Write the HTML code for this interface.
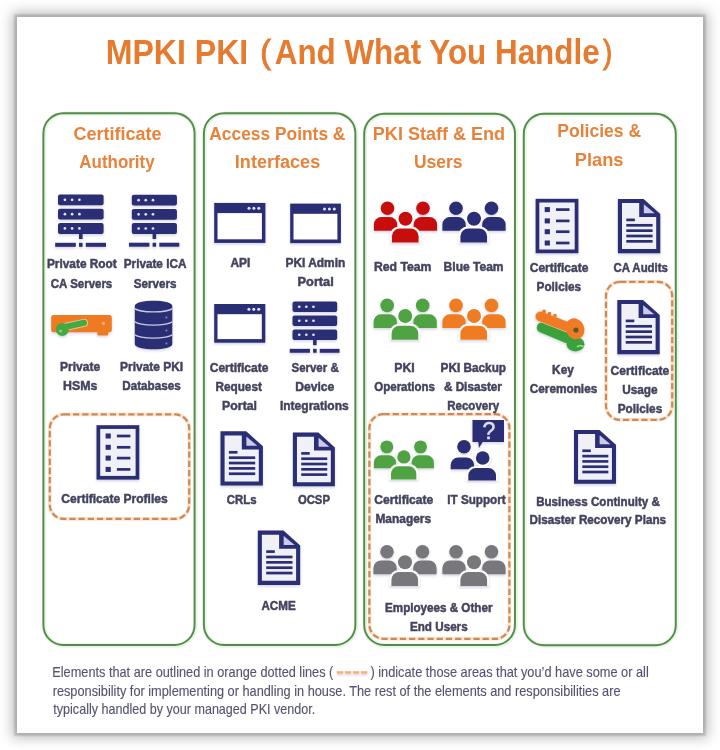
<!DOCTYPE html>
<html><head><meta charset="utf-8"><style>
html,body{margin:0;padding:0;background:#fff;width:720px;height:750px;overflow:hidden;}
#card{position:absolute;left:17px;top:16.6px;width:686.3px;height:716.2px;background:#fff;box-shadow:0 0 1.5px 3px rgba(0,0,0,0.14),0 0 12px 5px rgba(0,0,0,0.26);}
svg{position:absolute;left:0;top:0;filter:blur(0.4px);}
text{font-family:"Liberation Sans",sans-serif;}
</style></head><body>
<div id="card"></div>
<svg width="720" height="750" viewBox="0 0 720 750">
<rect x="44.0" y="113.7" width="151.20" height="531.70" rx="20" fill="none" stroke="#e6f6e2" stroke-width="4.5"/><rect x="43.4" y="113.3" width="151.20" height="531.70" rx="20" fill="none" stroke="#558a4f" stroke-width="1.9"/><rect x="204.5" y="113.7" width="151.50" height="531.70" rx="20" fill="none" stroke="#e6f6e2" stroke-width="4.5"/><rect x="203.9" y="113.3" width="151.50" height="531.70" rx="20" fill="none" stroke="#558a4f" stroke-width="1.9"/><rect x="364.8" y="114.2" width="150.80" height="531.20" rx="20" fill="none" stroke="#e6f6e2" stroke-width="4.5"/><rect x="364.2" y="113.8" width="150.80" height="531.20" rx="20" fill="none" stroke="#558a4f" stroke-width="1.9"/><rect x="524.4" y="114.2" width="152.00" height="531.40" rx="20" fill="none" stroke="#e6f6e2" stroke-width="4.5"/><rect x="523.8" y="113.8" width="152.00" height="531.40" rx="20" fill="none" stroke="#558a4f" stroke-width="1.9"/>
<rect x="49.8" y="414.4" width="139.40" height="104.50" rx="14" fill="none" stroke="#fbe3cf" stroke-width="3.6"/><rect x="49.8" y="414.4" width="139.40" height="104.50" rx="14" fill="none" stroke="#cc8a58" stroke-width="2.2" stroke-dasharray="6.3 2.9"/><rect x="369.4" y="414.2" width="140.00" height="224.60" rx="14" fill="none" stroke="#fbe3cf" stroke-width="3.6"/><rect x="369.4" y="414.2" width="140.00" height="224.60" rx="14" fill="none" stroke="#cc8a58" stroke-width="2.2" stroke-dasharray="6.3 2.9"/><rect x="606" y="281.9" width="66.20" height="137.90" rx="14" fill="none" stroke="#fbe3cf" stroke-width="3.6"/><rect x="606" y="281.9" width="66.20" height="137.90" rx="14" fill="none" stroke="#cc8a58" stroke-width="2.2" stroke-dasharray="6.3 2.9"/>
<defs><filter id="sh" x="-10%" y="-10%" width="120%" height="130%"><feDropShadow dx="0" dy="1.5" stdDeviation="1" flood-color="#3a3a70" flood-opacity="0.22"/></filter></defs>
<g filter="url(#sh)"><rect x="58.00" y="194.40" width="45.60" height="10.90" rx="2" fill="#2c2d74"/><circle cx="64.90" cy="199.85" r="1.35" fill="#e4e4f4"/><circle cx="72.10" cy="199.85" r="1.35" fill="#e4e4f4"/><circle cx="79.40" cy="199.85" r="1.35" fill="#e4e4f4"/><rect x="58.00" y="208.70" width="45.60" height="10.90" rx="2" fill="#2c2d74"/><circle cx="64.90" cy="214.15" r="1.35" fill="#e4e4f4"/><circle cx="72.10" cy="214.15" r="1.35" fill="#e4e4f4"/><circle cx="79.40" cy="214.15" r="1.35" fill="#e4e4f4"/><rect x="58.00" y="223.00" width="45.60" height="10.90" rx="2" fill="#2c2d74"/><circle cx="64.90" cy="228.45" r="1.35" fill="#e4e4f4"/><circle cx="72.10" cy="228.45" r="1.35" fill="#e4e4f4"/><circle cx="79.40" cy="228.45" r="1.35" fill="#e4e4f4"/><rect x="79.00" y="233.40" width="3.60" height="5.60" fill="#2c2d74"/><rect x="55.20" y="242.80" width="20.60" height="4.00" fill="#2c2d74"/><rect x="79.00" y="242.80" width="3.60" height="4.00" fill="#2c2d74"/><rect x="85.80" y="242.80" width="20.20" height="4.00" fill="#2c2d74"/><rect x="131.80" y="194.80" width="45.14" height="10.79" rx="2" fill="#2c2d74"/><circle cx="138.63" cy="200.20" r="1.35" fill="#e4e4f4"/><circle cx="145.76" cy="200.20" r="1.35" fill="#e4e4f4"/><circle cx="152.99" cy="200.20" r="1.35" fill="#e4e4f4"/><rect x="131.80" y="208.96" width="45.14" height="10.79" rx="2" fill="#2c2d74"/><circle cx="138.63" cy="214.35" r="1.35" fill="#e4e4f4"/><circle cx="145.76" cy="214.35" r="1.35" fill="#e4e4f4"/><circle cx="152.99" cy="214.35" r="1.35" fill="#e4e4f4"/><rect x="131.80" y="223.11" width="45.14" height="10.79" rx="2" fill="#2c2d74"/><circle cx="138.63" cy="228.51" r="1.35" fill="#e4e4f4"/><circle cx="145.76" cy="228.51" r="1.35" fill="#e4e4f4"/><circle cx="152.99" cy="228.51" r="1.35" fill="#e4e4f4"/><rect x="152.59" y="233.41" width="3.56" height="5.54" fill="#2c2d74"/><rect x="129.03" y="242.72" width="20.39" height="3.96" fill="#2c2d74"/><rect x="152.59" y="242.72" width="3.56" height="3.96" fill="#2c2d74"/><rect x="159.32" y="242.72" width="20.00" height="3.96" fill="#2c2d74"/><rect x="51.2" y="315" width="60.6" height="17.2" rx="2.5" fill="#ee7a22"/><rect x="97.3" y="330" width="11" height="5.5" rx="1.5" fill="#ee7a22"/><circle cx="103.4" cy="323.3" r="1.6" fill="#f6b48a"/><path d="M63 327.5 L84 322.8" stroke="#e2c98a" stroke-width="8" stroke-linecap="round"/><path d="M63 327.5 L84 322.8" stroke="#45a83f" stroke-width="6" stroke-linecap="round"/><circle cx="62.3" cy="329.4" r="6.5" fill="#45a83f"/><circle cx="60.5" cy="331" r="1.5" fill="#8fcf6f"/><path d="M134.8 306 C134.8 299 172.3 299 172.3 306 V344 C172.3 351 134.8 351 134.8 344 Z" fill="#2c2d74"/><path d="M134.8 308.6 C140 313 167 313 172.3 308.6" stroke="#c8c8e8" stroke-width="1.4" fill="none"/><path d="M134.8 321.8 C140 326.2 167 326.2 172.3 321.8" stroke="#c8c8e8" stroke-width="1.4" fill="none"/><path d="M134.8 334.8 C140 339.2 167 339.2 172.3 334.8" stroke="#c8c8e8" stroke-width="1.4" fill="none"/><circle cx="166.4" cy="317.5" r="1" fill="#8a8ac0"/><circle cx="166.4" cy="330.5" r="1" fill="#8a8ac0"/><circle cx="166.4" cy="343.5" r="1" fill="#8a8ac0"/><rect x="96.5" y="425.2" width="42.80" height="54.40" fill="#2c2d74"/><rect x="100.20" y="428.90" width="35.40" height="47.00" fill="#f0f0f7"/><rect x="105.60" y="433.50" width="5.20" height="5.00" fill="#2c2d74"/><rect x="116.90" y="434.65" width="13.50" height="2.70" fill="#2c2d74"/><rect x="105.60" y="444.80" width="5.20" height="5.00" fill="#2c2d74"/><rect x="116.90" y="445.95" width="13.50" height="2.70" fill="#2c2d74"/><rect x="105.60" y="455.60" width="5.20" height="5.00" fill="#2c2d74"/><rect x="116.90" y="456.75" width="13.50" height="2.70" fill="#2c2d74"/><rect x="105.60" y="466.90" width="5.20" height="5.00" fill="#2c2d74"/><rect x="116.90" y="468.05" width="13.50" height="2.70" fill="#2c2d74"/><rect x="214.2" y="202.9" width="51.2" height="40" fill="#2c2d74"/><rect x="217.50" y="213.10" width="44.40" height="26.20" fill="#fff"/><circle cx="249.00" cy="208.20" r="1.5" fill="#e4e4f4"/><circle cx="253.90" cy="208.20" r="1.5" fill="#e4e4f4"/><circle cx="258.80" cy="208.20" r="1.5" fill="#e4e4f4"/><rect x="290.2" y="203.6" width="50.7" height="39.5" fill="#2c2d74"/><rect x="293.50" y="213.80" width="43.90" height="25.70" fill="#fff"/><circle cx="324.50" cy="208.90" r="1.5" fill="#e4e4f4"/><circle cx="329.40" cy="208.90" r="1.5" fill="#e4e4f4"/><circle cx="334.30" cy="208.90" r="1.5" fill="#e4e4f4"/><rect x="214.2" y="304" width="51.1" height="38.7" fill="#2c2d74"/><rect x="217.50" y="314.20" width="44.30" height="24.90" fill="#fff"/><circle cx="248.90" cy="309.30" r="1.5" fill="#e4e4f4"/><circle cx="253.80" cy="309.30" r="1.5" fill="#e4e4f4"/><circle cx="258.70" cy="309.30" r="1.5" fill="#e4e4f4"/><rect x="292.50" y="301.40" width="44.69" height="10.68" rx="2" fill="#2c2d74"/><circle cx="299.26" cy="306.74" r="1.35" fill="#e4e4f4"/><circle cx="306.32" cy="306.74" r="1.35" fill="#e4e4f4"/><circle cx="313.47" cy="306.74" r="1.35" fill="#e4e4f4"/><rect x="292.50" y="315.41" width="44.69" height="10.68" rx="2" fill="#2c2d74"/><circle cx="299.26" cy="320.75" r="1.35" fill="#e4e4f4"/><circle cx="306.32" cy="320.75" r="1.35" fill="#e4e4f4"/><circle cx="313.47" cy="320.75" r="1.35" fill="#e4e4f4"/><rect x="292.50" y="329.43" width="44.69" height="10.68" rx="2" fill="#2c2d74"/><circle cx="299.26" cy="334.77" r="1.35" fill="#e4e4f4"/><circle cx="306.32" cy="334.77" r="1.35" fill="#e4e4f4"/><circle cx="313.47" cy="334.77" r="1.35" fill="#e4e4f4"/><rect x="313.08" y="339.61" width="3.53" height="5.49" fill="#2c2d74"/><rect x="289.76" y="348.83" width="20.19" height="3.92" fill="#2c2d74"/><rect x="313.08" y="348.83" width="3.53" height="3.92" fill="#2c2d74"/><rect x="319.74" y="348.83" width="19.80" height="3.92" fill="#2c2d74"/><path d="M220.5 431.3 H246.20 L262.90 446.30 V485.60 H220.5 Z" fill="#2c2d74"/><path d="M224.60 435.40 H241.80 V449.38 H258.80 V481.50 H224.60 Z" fill="#f0f0f7"/><path d="M246.40 436.60 L257.30 445.70 H246.40 Z" fill="#cbcbea"/><rect x="228.90" y="450.95" width="8.60" height="2.70" fill="#2c2d74"/><rect x="228.90" y="456.35" width="26.30" height="2.70" fill="#2c2d74"/><rect x="228.90" y="461.70" width="26.30" height="2.70" fill="#2c2d74"/><rect x="228.90" y="467.05" width="26.30" height="2.70" fill="#2c2d74"/><rect x="228.90" y="472.40" width="26.30" height="2.70" fill="#2c2d74"/><path d="M292.9 432.6 H318.34 L334.88 447.45 V486.36 H292.9 Z" fill="#2c2d74"/><path d="M296.96 436.66 H313.98 V450.49 H330.82 V482.30 H296.96 Z" fill="#f0f0f7"/><path d="M318.54 437.86 L329.32 446.85 H318.54 Z" fill="#cbcbea"/><rect x="301.22" y="452.04" width="8.51" height="2.67" fill="#2c2d74"/><rect x="301.22" y="457.39" width="26.04" height="2.67" fill="#2c2d74"/><rect x="301.22" y="462.68" width="26.04" height="2.67" fill="#2c2d74"/><rect x="301.22" y="467.98" width="26.04" height="2.67" fill="#2c2d74"/><rect x="301.22" y="473.28" width="26.04" height="2.67" fill="#2c2d74"/><path d="M257.8 530.6 H283.50 L300.20 545.60 V584.90 H257.8 Z" fill="#2c2d74"/><path d="M261.90 534.70 H279.10 V548.68 H296.10 V580.80 H261.90 Z" fill="#f0f0f7"/><path d="M283.70 535.90 L294.60 545.00 H283.70 Z" fill="#cbcbea"/><rect x="266.20" y="550.25" width="8.60" height="2.70" fill="#2c2d74"/><rect x="266.20" y="555.65" width="26.30" height="2.70" fill="#2c2d74"/><rect x="266.20" y="561.00" width="26.30" height="2.70" fill="#2c2d74"/><rect x="266.20" y="566.35" width="26.30" height="2.70" fill="#2c2d74"/><rect x="266.20" y="571.70" width="26.30" height="2.70" fill="#2c2d74"/><circle cx="387.50" cy="208.20" r="6.80" fill="#c80a0e"/><circle cx="423.00" cy="208.20" r="6.80" fill="#c80a0e"/><path d="M373.90 230.70 V224.60 A7.5 7.5 0 0 1 381.40 217.10 H389.70 A7.5 7.5 0 0 1 397.20 224.60 V230.70 Z" fill="#c80a0e"/><path d="M413.70 230.70 V224.60 A7.5 7.5 0 0 1 421.20 217.10 H429.60 A7.5 7.5 0 0 1 437.10 224.60 V230.70 Z" fill="#c80a0e"/><circle cx="405.50" cy="218.80" r="8.60" fill="#fff"/><path d="M390.10 242.50 V235.20 A8.5 8.5 0 0 1 398.60 226.70 H411.90 A8.5 8.5 0 0 1 420.40 235.20 V242.50 Z" fill="#fff"/><circle cx="405.50" cy="218.80" r="7.00" fill="#c80a0e"/><path d="M391.90 242.50 V236.50 A8.0 8.0 0 0 1 399.90 228.50 H410.60 A8.0 8.0 0 0 1 418.60 236.50 V242.50 Z" fill="#c80a0e"/><circle cx="456.00" cy="208.20" r="6.80" fill="#2c2d74"/><circle cx="491.50" cy="208.20" r="6.80" fill="#2c2d74"/><path d="M442.40 230.70 V224.60 A7.5 7.5 0 0 1 449.90 217.10 H458.20 A7.5 7.5 0 0 1 465.70 224.60 V230.70 Z" fill="#2c2d74"/><path d="M482.20 230.70 V224.60 A7.5 7.5 0 0 1 489.70 217.10 H498.10 A7.5 7.5 0 0 1 505.60 224.60 V230.70 Z" fill="#2c2d74"/><circle cx="474.00" cy="218.80" r="8.60" fill="#fff"/><path d="M458.60 242.50 V235.20 A8.5 8.5 0 0 1 467.10 226.70 H480.40 A8.5 8.5 0 0 1 488.90 235.20 V242.50 Z" fill="#fff"/><circle cx="474.00" cy="218.80" r="7.00" fill="#2c2d74"/><path d="M460.40 242.50 V236.50 A8.0 8.0 0 0 1 468.40 228.50 H479.10 A8.0 8.0 0 0 1 487.10 236.50 V242.50 Z" fill="#2c2d74"/><circle cx="387.20" cy="305.40" r="6.80" fill="#50a343"/><circle cx="422.70" cy="305.40" r="6.80" fill="#50a343"/><path d="M373.60 327.90 V321.80 A7.5 7.5 0 0 1 381.10 314.30 H389.40 A7.5 7.5 0 0 1 396.90 321.80 V327.90 Z" fill="#50a343"/><path d="M413.40 327.90 V321.80 A7.5 7.5 0 0 1 420.90 314.30 H429.30 A7.5 7.5 0 0 1 436.80 321.80 V327.90 Z" fill="#50a343"/><circle cx="405.20" cy="316.00" r="8.60" fill="#fff"/><path d="M389.80 339.70 V332.40 A8.5 8.5 0 0 1 398.30 323.90 H411.60 A8.5 8.5 0 0 1 420.10 332.40 V339.70 Z" fill="#fff"/><circle cx="405.20" cy="316.00" r="7.00" fill="#50a343"/><path d="M391.60 339.70 V333.70 A8.0 8.0 0 0 1 399.60 325.70 H410.30 A8.0 8.0 0 0 1 418.30 333.70 V339.70 Z" fill="#50a343"/><circle cx="456.00" cy="305.40" r="6.80" fill="#f07b24"/><circle cx="491.50" cy="305.40" r="6.80" fill="#f07b24"/><path d="M442.40 327.90 V321.80 A7.5 7.5 0 0 1 449.90 314.30 H458.20 A7.5 7.5 0 0 1 465.70 321.80 V327.90 Z" fill="#f07b24"/><path d="M482.20 327.90 V321.80 A7.5 7.5 0 0 1 489.70 314.30 H498.10 A7.5 7.5 0 0 1 505.60 321.80 V327.90 Z" fill="#f07b24"/><circle cx="474.00" cy="316.00" r="8.60" fill="#fff"/><path d="M458.60 339.70 V332.40 A8.5 8.5 0 0 1 467.10 323.90 H480.40 A8.5 8.5 0 0 1 488.90 332.40 V339.70 Z" fill="#fff"/><circle cx="474.00" cy="316.00" r="7.00" fill="#f07b24"/><path d="M460.40 339.70 V333.70 A8.0 8.0 0 0 1 468.40 325.70 H479.10 A8.0 8.0 0 0 1 487.10 333.70 V339.70 Z" fill="#f07b24"/><circle cx="386.80" cy="446.87" r="6.46" fill="#50a343"/><circle cx="420.52" cy="446.87" r="6.46" fill="#50a343"/><path d="M373.88 468.24 V462.44 A7.125 7.125 0 0 1 381.00 455.32 H388.89 A7.125 7.125 0 0 1 396.01 462.44 V468.24 Z" fill="#50a343"/><path d="M411.69 468.24 V462.44 A7.125 7.125 0 0 1 418.81 455.32 H426.80 A7.125 7.125 0 0 1 433.92 462.44 V468.24 Z" fill="#50a343"/><circle cx="403.90" cy="456.94" r="8.26" fill="#fff"/><path d="M389.18 479.45 V472.42 A8.075 8.075 0 0 1 397.25 464.35 H410.07 A8.075 8.075 0 0 1 418.15 472.42 V479.45 Z" fill="#fff"/><circle cx="403.90" cy="456.94" r="6.66" fill="#50a343"/><path d="M390.98 479.45 V473.75 A7.6 7.6 0 0 1 398.58 466.15 H408.75 A7.6 7.6 0 0 1 416.35 473.75 V479.45 Z" fill="#50a343"/><circle cx="387.00" cy="551.70" r="6.80" fill="#77777b"/><circle cx="422.50" cy="551.70" r="6.80" fill="#77777b"/><path d="M373.40 574.20 V568.10 A7.5 7.5 0 0 1 380.90 560.60 H389.20 A7.5 7.5 0 0 1 396.70 568.10 V574.20 Z" fill="#77777b"/><path d="M413.20 574.20 V568.10 A7.5 7.5 0 0 1 420.70 560.60 H429.10 A7.5 7.5 0 0 1 436.60 568.10 V574.20 Z" fill="#77777b"/><circle cx="405.00" cy="562.30" r="8.60" fill="#fff"/><path d="M389.60 586.00 V578.70 A8.5 8.5 0 0 1 398.10 570.20 H411.40 A8.5 8.5 0 0 1 419.90 578.70 V586.00 Z" fill="#fff"/><circle cx="405.00" cy="562.30" r="7.00" fill="#77777b"/><path d="M391.40 586.00 V580.00 A8.0 8.0 0 0 1 399.40 572.00 H410.10 A8.0 8.0 0 0 1 418.10 580.00 V586.00 Z" fill="#77777b"/><circle cx="456.00" cy="551.70" r="6.80" fill="#77777b"/><circle cx="491.50" cy="551.70" r="6.80" fill="#77777b"/><path d="M442.40 574.20 V568.10 A7.5 7.5 0 0 1 449.90 560.60 H458.20 A7.5 7.5 0 0 1 465.70 568.10 V574.20 Z" fill="#77777b"/><path d="M482.20 574.20 V568.10 A7.5 7.5 0 0 1 489.70 560.60 H498.10 A7.5 7.5 0 0 1 505.60 568.10 V574.20 Z" fill="#77777b"/><circle cx="474.00" cy="562.30" r="8.60" fill="#fff"/><path d="M458.60 586.00 V578.70 A8.5 8.5 0 0 1 467.10 570.20 H480.40 A8.5 8.5 0 0 1 488.90 578.70 V586.00 Z" fill="#fff"/><circle cx="474.00" cy="562.30" r="7.00" fill="#77777b"/><path d="M460.40 586.00 V580.00 A8.0 8.0 0 0 1 468.40 572.00 H479.10 A8.0 8.0 0 0 1 487.10 580.00 V586.00 Z" fill="#77777b"/><path d="M472.5 420.1 H504 V442 H482.7 L478.9 447.9 L478.4 442 H472.5 Z" fill="#2c2d74"/><text x="488.8" y="439.4" font-size="23" font-family="Liberation Sans" text-anchor="middle" fill="#e0e0f2" stroke="#e0e0f2" stroke-width="0.4">?</text><circle cx="464" cy="446.8" r="6.8" fill="#2c2d74"/><path d="M450.70 469.20 V465.00 A7.5 7.5 0 0 1 458.20 457.50 H466.60 A7.5 7.5 0 0 1 474.10 465.00 V469.20 Z" fill="#2c2d74"/><circle cx="482.7" cy="458" r="8.6" fill="#fff"/><path d="M466.50 480.40 V474.80 A8.5 8.5 0 0 1 475.00 466.30 H489.30 A8.5 8.5 0 0 1 497.80 474.80 V480.40 Z" fill="#fff"/><circle cx="482.7" cy="458" r="6.8" fill="#2c2d74"/><path d="M468.30 480.40 V475.60 A7.5 7.5 0 0 1 475.80 468.10 H488.50 A7.5 7.5 0 0 1 496.00 475.60 V480.40 Z" fill="#2c2d74"/><rect x="535.6" y="198.8" width="42.80" height="54.40" fill="#2c2d74"/><rect x="539.30" y="202.50" width="35.40" height="47.00" fill="#f0f0f7"/><rect x="544.70" y="207.10" width="5.20" height="5.00" fill="#2c2d74"/><rect x="556.00" y="208.25" width="13.50" height="2.70" fill="#2c2d74"/><rect x="544.70" y="218.40" width="5.20" height="5.00" fill="#2c2d74"/><rect x="556.00" y="219.55" width="13.50" height="2.70" fill="#2c2d74"/><rect x="544.70" y="229.20" width="5.20" height="5.00" fill="#2c2d74"/><rect x="556.00" y="230.35" width="13.50" height="2.70" fill="#2c2d74"/><rect x="544.70" y="240.50" width="5.20" height="5.00" fill="#2c2d74"/><rect x="556.00" y="241.65" width="13.50" height="2.70" fill="#2c2d74"/><path d="M617.9 198.9 H643.60 L660.30 213.90 V253.20 H617.9 Z" fill="#2c2d74"/><path d="M622.00 203.00 H639.20 V216.97 H656.20 V249.10 H622.00 Z" fill="#f0f0f7"/><path d="M643.80 204.20 L654.70 213.30 H643.80 Z" fill="#cbcbea"/><rect x="626.30" y="218.55" width="8.60" height="2.70" fill="#2c2d74"/><rect x="626.30" y="223.95" width="26.30" height="2.70" fill="#2c2d74"/><rect x="626.30" y="229.30" width="26.30" height="2.70" fill="#2c2d74"/><rect x="626.30" y="234.65" width="26.30" height="2.70" fill="#2c2d74"/><rect x="626.30" y="240.00" width="26.30" height="2.70" fill="#2c2d74"/><path d="M617.3 299.9 H643.00 L659.70 314.90 V354.20 H617.3 Z" fill="#2c2d74"/><path d="M621.40 304.00 H638.60 V317.97 H655.60 V350.10 H621.40 Z" fill="#f0f0f7"/><path d="M643.20 305.20 L654.10 314.30 H643.20 Z" fill="#cbcbea"/><rect x="625.70" y="319.55" width="8.60" height="2.70" fill="#2c2d74"/><rect x="625.70" y="324.95" width="26.30" height="2.70" fill="#2c2d74"/><rect x="625.70" y="330.30" width="26.30" height="2.70" fill="#2c2d74"/><rect x="625.70" y="335.65" width="26.30" height="2.70" fill="#2c2d74"/><rect x="625.70" y="341.00" width="26.30" height="2.70" fill="#2c2d74"/><path d="M574 430 H599.44 L615.98 444.85 V483.76 H574 Z" fill="#2c2d74"/><path d="M578.06 434.06 H595.08 V447.89 H611.92 V479.70 H578.06 Z" fill="#f0f0f7"/><path d="M599.64 435.26 L610.42 444.25 H599.64 Z" fill="#cbcbea"/><rect x="582.32" y="449.44" width="8.51" height="2.67" fill="#2c2d74"/><rect x="582.32" y="454.79" width="26.04" height="2.67" fill="#2c2d74"/><rect x="582.32" y="460.08" width="26.04" height="2.67" fill="#2c2d74"/><rect x="582.32" y="465.38" width="26.04" height="2.67" fill="#2c2d74"/><rect x="582.32" y="470.68" width="26.04" height="2.67" fill="#2c2d74"/><rect x="336.80" y="671.2" width="6.6" height="2.5" fill="#f0b47e"/><rect x="344.80" y="671.2" width="6.6" height="2.5" fill="#f0b47e"/><rect x="352.80" y="671.2" width="6.6" height="2.5" fill="#f0b47e"/><rect x="360.80" y="671.2" width="6.6" height="2.5" fill="#f0b47e"/><g><path d="M542 327.5 L567 338" stroke="#3aa23a" stroke-width="10.5" stroke-linecap="round"/><ellipse cx="575.5" cy="344.2" rx="9" ry="7.2" fill="#3aa23a"/><path d="M577 347 a4 2.2 0 0 1 6.5 -0.5" stroke="#a6dca0" stroke-width="1.6" fill="none"/><path d="M540.5 316.5 L566 326.5" stroke="#f4c89a" stroke-width="11" stroke-linecap="round"/><path d="M540.5 316.5 L566 326.5" stroke="#f07a28" stroke-width="9.5" stroke-linecap="round"/><circle cx="544" cy="311.6" r="2" fill="#f07a28"/><circle cx="549.5" cy="313.6" r="1.9" fill="#f07a28"/><circle cx="555" cy="315.6" r="1.8" fill="#f07a28"/><ellipse cx="575" cy="328.8" rx="9.2" ry="10.8" transform="rotate(-25 575 328.8)" fill="#f07a28"/><circle cx="576" cy="330" r="2.6" fill="#5a5a20"/></g></g>
<text transform="translate(105.72 63.70) scale(0.9034 1)" font-size="35.5" font-weight="bold" fill="#e67a2e">MPKI PKI</text><text transform="translate(260.37 62.60) scale(0.9477 1)" font-size="34" fill="#e67a2e" stroke="#e67a2e" stroke-width="1.0">(</text><text transform="translate(274.77 63.70) scale(0.8840 1)" font-size="35.5" font-weight="bold" fill="#e67a2e">And What You Handle</text><text transform="translate(602.96 62.60) scale(0.8170 1)" font-size="34" fill="#e67a2e" stroke="#e67a2e" stroke-width="1.0">)</text><text transform="translate(73.48 140.10) scale(1.0006 1)" font-size="18" font-weight="bold" fill="#e8823a">Certificate</text><text transform="translate(79.36 167.90) scale(0.9421 1)" font-size="18" font-weight="bold" fill="#e8823a">Authority</text><text transform="translate(209.25 139.60) scale(0.9657 1)" font-size="18" font-weight="bold" fill="#e8823a">Access Points &amp;</text><text transform="translate(234.82 167.90) scale(1.0045 1)" font-size="18" font-weight="bold" fill="#e8823a">Interfaces</text><text transform="translate(372.83 139.60) scale(1.0027 1)" font-size="18" font-weight="bold" fill="#e8823a">PKI Staff &amp; End</text><text transform="translate(413.95 167.90) scale(0.9688 1)" font-size="18" font-weight="bold" fill="#e8823a">Users</text><text transform="translate(557.26 136.70) scale(0.9754 1)" font-size="18" font-weight="bold" fill="#e8823a">Policies &amp;</text><text transform="translate(574.81 165.60) scale(1.0151 1)" font-size="18" font-weight="bold" fill="#e8823a">Plans</text><text transform="translate(46.93 268.00) scale(0.9124 1)" font-size="13" font-weight="bold" fill="#43435f" stroke="#43435f" stroke-width="0.5">Private Root</text><text transform="translate(50.84 287.80) scale(0.8827 1)" font-size="13" font-weight="bold" fill="#43435f" stroke="#43435f" stroke-width="0.5">CA Servers</text><text transform="translate(123.74 268.00) scale(0.9043 1)" font-size="13" font-weight="bold" fill="#43435f" stroke="#43435f" stroke-width="0.5">Private ICA</text><text transform="translate(133.71 287.80) scale(0.8953 1)" font-size="13" font-weight="bold" fill="#43435f" stroke="#43435f" stroke-width="0.5">Servers</text><text transform="translate(60.12 371.40) scale(0.9238 1)" font-size="13" font-weight="bold" fill="#43435f" stroke="#43435f" stroke-width="0.5">Private</text><text transform="translate(63.00 390.40) scale(0.9511 1)" font-size="13" font-weight="bold" fill="#43435f" stroke="#43435f" stroke-width="0.5">HSMs</text><text transform="translate(120.12 371.40) scale(0.9197 1)" font-size="13" font-weight="bold" fill="#43435f" stroke="#43435f" stroke-width="0.5">Private PKI</text><text transform="translate(122.24 389.70) scale(0.8992 1)" font-size="13" font-weight="bold" fill="#43435f" stroke="#43435f" stroke-width="0.5">Databases</text><text transform="translate(61.32 502.80) scale(0.9264 1)" font-size="13" font-weight="bold" fill="#43435f" stroke="#43435f" stroke-width="0.5">Certificate Profiles</text><text transform="translate(230.46 267.20) scale(0.9177 1)" font-size="13" font-weight="bold" fill="#43435f" stroke="#43435f" stroke-width="0.5">API</text><text transform="translate(285.42 267.20) scale(0.9191 1)" font-size="13" font-weight="bold" fill="#43435f" stroke="#43435f" stroke-width="0.5">PKI Admin</text><text transform="translate(297.57 286.10) scale(0.9825 1)" font-size="13" font-weight="bold" fill="#43435f" stroke="#43435f" stroke-width="0.5">Portal</text><text transform="translate(209.72 372.20) scale(0.9225 1)" font-size="13" font-weight="bold" fill="#43435f" stroke="#43435f" stroke-width="0.5">Certificate</text><text transform="translate(215.43 391.10) scale(0.9058 1)" font-size="13" font-weight="bold" fill="#43435f" stroke="#43435f" stroke-width="0.5">Request</text><text transform="translate(222.10 410.00) scale(0.9483 1)" font-size="13" font-weight="bold" fill="#43435f" stroke="#43435f" stroke-width="0.5">Portal</text><text transform="translate(291.51 372.20) scale(0.8826 1)" font-size="13" font-weight="bold" fill="#43435f" stroke="#43435f" stroke-width="0.5">Server &amp;</text><text transform="translate(295.21 391.10) scale(0.9344 1)" font-size="13" font-weight="bold" fill="#43435f" stroke="#43435f" stroke-width="0.5">Device</text><text transform="translate(279.92 410.00) scale(0.9264 1)" font-size="13" font-weight="bold" fill="#43435f" stroke="#43435f" stroke-width="0.5">Integrations</text><text transform="translate(226.84 503.90) scale(0.8769 1)" font-size="13" font-weight="bold" fill="#43435f" stroke="#43435f" stroke-width="0.5">CRLs</text><text transform="translate(297.95 503.90) scale(0.8689 1)" font-size="13" font-weight="bold" fill="#43435f" stroke="#43435f" stroke-width="0.5">OCSP</text><text transform="translate(261.47 609.60) scale(0.8952 1)" font-size="13" font-weight="bold" fill="#43435f" stroke="#43435f" stroke-width="0.5">ACME</text><text transform="translate(373.91 270.60) scale(0.9404 1)" font-size="13" font-weight="bold" fill="#43435f" stroke="#43435f" stroke-width="0.5">Red Team</text><text transform="translate(443.62 270.60) scale(0.9262 1)" font-size="13" font-weight="bold" fill="#43435f" stroke="#43435f" stroke-width="0.5">Blue Team</text><text transform="translate(394.30 372.20) scale(0.9446 1)" font-size="13" font-weight="bold" fill="#43435f" stroke="#43435f" stroke-width="0.5">PKI</text><text transform="translate(374.24 391.10) scale(0.8871 1)" font-size="13" font-weight="bold" fill="#43435f" stroke="#43435f" stroke-width="0.5">Operations</text><text transform="translate(440.53 372.20) scale(0.9073 1)" font-size="13" font-weight="bold" fill="#43435f" stroke="#43435f" stroke-width="0.5">PKI Backup</text><text transform="translate(443.93 391.10) scale(0.9025 1)" font-size="13" font-weight="bold" fill="#43435f" stroke="#43435f" stroke-width="0.5">&amp; Disaster</text><text transform="translate(447.25 410.00) scale(0.8860 1)" font-size="13" font-weight="bold" fill="#43435f" stroke="#43435f" stroke-width="0.5">Recovery</text><text transform="translate(374.22 503.90) scale(0.9289 1)" font-size="13" font-weight="bold" fill="#43435f" stroke="#43435f" stroke-width="0.5">Certificate</text><text transform="translate(375.42 522.80) scale(0.9179 1)" font-size="13" font-weight="bold" fill="#43435f" stroke="#43435f" stroke-width="0.5">Managers</text><text transform="translate(447.24 503.90) scale(0.8995 1)" font-size="13" font-weight="bold" fill="#43435f" stroke="#43435f" stroke-width="0.5">IT Support</text><text transform="translate(385.04 612.10) scale(0.8966 1)" font-size="13" font-weight="bold" fill="#43435f" stroke="#43435f" stroke-width="0.5">Employees &amp; Other</text><text transform="translate(409.94 630.60) scale(0.8986 1)" font-size="13" font-weight="bold" fill="#43435f" stroke="#43435f" stroke-width="0.5">End Users</text><text transform="translate(529.72 272.10) scale(0.9225 1)" font-size="13" font-weight="bold" fill="#43435f" stroke="#43435f" stroke-width="0.5">Certificate</text><text transform="translate(536.53 291.20) scale(0.9075 1)" font-size="13" font-weight="bold" fill="#43435f" stroke="#43435f" stroke-width="0.5">Policies</text><text transform="translate(613.54 272.10) scale(0.8797 1)" font-size="13" font-weight="bold" fill="#43435f" stroke="#43435f" stroke-width="0.5">CA Audits</text><text transform="translate(552.12 373.90) scale(0.9179 1)" font-size="13" font-weight="bold" fill="#43435f" stroke="#43435f" stroke-width="0.5">Key</text><text transform="translate(529.73 392.80) scale(0.9083 1)" font-size="13" font-weight="bold" fill="#43435f" stroke="#43435f" stroke-width="0.5">Ceremonies</text><text transform="translate(610.62 374.60) scale(0.9225 1)" font-size="13" font-weight="bold" fill="#43435f" stroke="#43435f" stroke-width="0.5">Certificate</text><text transform="translate(622.19 393.90) scale(0.9092 1)" font-size="13" font-weight="bold" fill="#43435f" stroke="#43435f" stroke-width="0.5">Usage</text><text transform="translate(617.63 412.80) scale(0.9075 1)" font-size="13" font-weight="bold" fill="#43435f" stroke="#43435f" stroke-width="0.5">Policies</text><text transform="translate(536.15 505.60) scale(0.8925 1)" font-size="13" font-weight="bold" fill="#43435f" stroke="#43435f" stroke-width="0.5">Business Continuity &amp;</text><text transform="translate(529.44 524.40) scale(0.9014 1)" font-size="13" font-weight="bold" fill="#43435f" stroke="#43435f" stroke-width="0.5">Disaster Recovery Plans</text><text transform="translate(52.28 676.70) scale(0.9106 1)" font-size="14" fill="#535370" stroke="#535370" stroke-width="0.12">Elements that are outlined in orange dotted lines (</text><text transform="translate(370.44 676.70) scale(0.9135 1)" font-size="14" fill="#535370" stroke="#535370" stroke-width="0.12">) indicate those areas that you’d have some or all</text><text transform="translate(52.67 696.10) scale(0.9116 1)" font-size="14" fill="#535370" stroke="#535370" stroke-width="0.12">responsibility for implementing or handling in house. The rest of the elements and responsibilities are</text><text transform="translate(53.31 714.40) scale(0.8984 1)" font-size="14" fill="#535370" stroke="#535370" stroke-width="0.12">typically handled by your managed PKI vendor.</text>
</svg>
</body></html>
